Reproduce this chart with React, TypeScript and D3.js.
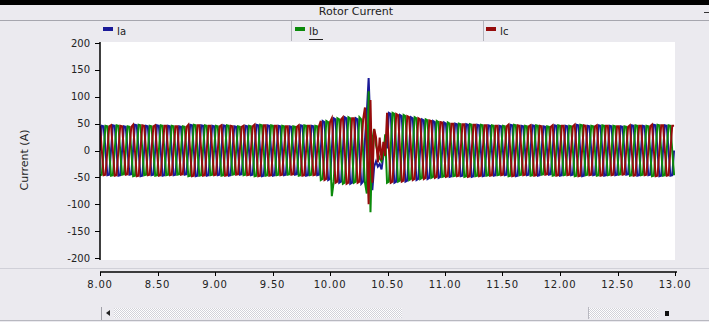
import * as d3 from 'd3';

// Chart text and ticks
const chartTitle = 'Rotor Current';
const yAxisLabel = 'Current (A)';
const seriesNames = ['Ia', 'Ib', 'Ic'];
const seriesColors = ['#1a1a98', '#0b8a0b', '#960c0c'];
const xTickValues = [8, 8.5, 9, 9.5, 10, 10.5, 11, 11.5, 12, 12.5, 13];
const yTickValues = [200, 150, 100, 50, 0, -50, -100, -150, -200];

// samples are evenly spaced in time
const startTime = 8;
const sampleStep = 0.016;

const iaValues = [
  0, 46, 45, 0, -46, -45, 1, 47, 46, -1, -47, -46, 0, 45, 44, 0, -45, -44, 2, 48, 47, -1, -48, -47,
  0, 46, 45, 0, -46, -45, 1, 47, 46, 0, -47, -46, 0, 46, 45, -1, -46, -45, 0, 45, 44, 0, -45, -44,
  1, 48, 47, 0, -48, -47, 0, 47, 46, -1, -47, -46, 0, 46, 45, 0, -46, -45, 1, 47, 46, 0, -47, -46,
  0, 45, 44, 0, -45, -44, 0, 46, 45, -1, -46, -45, 1, 48, 47, 0, -48, -47, 0, 47, 46, 0, -47, -46,
  0, 46, 45, -1, -46, -45, 0, 45, 44, 0, -45, -44, 1, 47, 46, 0, -47, -46, 0, 46, 45, 0, -46, -45,
  2, 55, 53, 0, -55, -53, 2, 60, 58, -2, -60, -58, 0, 62, 60, 0, -62, -60, 3, 60, 58, -4, -62, -58,
  20, 70, 135, 40, -74, -30, -20, -30, -25, -35, -10, 20,
  4, 70, 68, -3, -60, -58, 4, 66, 64, -3, -58, -56, 3, 62, 60, -2, -55, -53, 2, 58, 56, -1, -53, -51,
  2, 55, 53, -1, -51, -49, 1, 52, 50, 0, -49, -48, 1, 50, 49, 0, -48, -47, 0, 49, 48, -1, -49, -48,
  1, 48, 47, 0, -48, -47, 0, 47, 46, 0, -47, -46, 0, 46, 45, -1, -46, -45, 1, 48, 47, 0, -48, -47,
  0, 46, 45, 0, -46, -45, 0, 47, 46, 0, -47, -46, 1, 45, 44, -1, -45, -44, 0, 47, 46, 0, -47, -46,
  0, 46, 45, 0, -46, -45, 1, 48, 47, 0, -48, -47, 0, 46, 45, -1, -46, -45, 0, 47, 46, 0, -47, -46,
  1, 46, 45, 0, -46, -45, 0, 45, 44, 0, -45, -44, 0, 47, 46, -1, -47, -46, 1, 46, 45, 0, -46, -45,
  0, 48, 47, 0, -48, -47, 0, 47, 46, 0, -47, -46, 0
];

const ibValues = [
  -46, -45, 0, 46, 45, 0, -47, -46, 1, 47, 46, -1, -45, -44, 0, 45, 44, 0, -48, -47, -1, 48, 47, 1,
  -46, -45, 0, 46, 45, 0, -47, -46, 0, 47, 46, 1, -46, -45, 1, 46, 45, 0, -45, -44, 0, 45, 44, 0,
  -48, -47, 0, 48, 47, -1, -47, -46, 1, 47, 46, 0, -46, -45, 0, 46, 45, 0, -47, -46, 0, 47, 46, 1,
  -45, -44, 0, 45, 44, 0, -46, -45, 1, 46, 45, 0, -48, -47, 0, 48, 47, -1, -47, -46, 0, 47, 46, 0,
  -46, -45, 1, 46, 45, 0, -45, -44, 0, 45, 44, 0, -47, -46, 0, 47, 46, 1, -46, -45, 0, 46, 45, 0,
  -55, -53, -2, 55, 53, 0, -85, -58, 2, 60, 58, -2, -62, -60, 0, 62, 60, 0, -60, -58, 4, 62, 58, -3,
  -60, -80, 110, -115, 20, 40, 10, -5, -15, -20, -10, 30,
  -60, -58, 4, 70, 68, 3, -58, -56, 4, 66, 64, 3, -55, -53, 3, 62, 60, 2, -53, -51, 2, 58, 56, 2,
  -51, -49, 2, 55, 53, 1, -49, -48, 1, 52, 50, 1, -48, -47, 1, 50, 49, 0, -49, -48, 1, 49, 48, 0,
  -48, -47, -1, 48, 47, 0, -47, -46, 0, 47, 46, 0, -46, -45, 1, 46, 45, 0, -48, -47, -1, 48, 47, 0,
  -46, -45, 0, 46, 45, 0, -47, -46, 0, 47, 46, 0, -45, -44, 0, 45, 44, 1, -47, -46, 0, 47, 46, 0,
  -46, -45, 0, 46, 45, 0, -48, -47, -1, 48, 47, 0, -46, -45, 1, 46, 45, 0, -47, -46, 0, 47, 46, 0,
  -46, -45, -1, 46, 45, 0, -45, -44, 0, 45, 44, 0, -47, -46, 1, 47, 46, 0, -46, -45, -1, 46, 45, 0,
  -48, -47, 0, 48, 47, 0, -47, -46, 0, 47, 46, 0, -46
];

const icValues = [
  46, 0, -46, -45, 0, 45, 47, -1, -47, -46, 1, 46, 45, 0, -45, -44, 0, 44, 48, -1, -48, -47, 1, 47,
  46, 0, -46, -45, 0, 45, 47, -1, -47, -46, 0, 46, 46, 0, -46, -45, 1, 45, 45, 0, -45, -44, 0, 44,
  48, -1, -48, -47, 0, 47, 47, 0, -47, -46, 1, 46, 46, 0, -46, -45, 0, 45, 47, -1, -47, -46, 0, 46,
  45, 0, -45, -44, 0, 44, 46, 1, -46, -45, 0, 45, 48, -1, -48, -47, 0, 47, 47, 0, -47, -46, 0, 46,
  46, 1, -46, -45, 0, 45, 45, 0, -45, -44, 0, 44, 47, -1, -47, -46, 0, 46, 46, 0, -46, -45, 0, 45,
  55, -2, -55, -53, 2, 53, 60, -1, -60, -58, 3, 58, 62, 0, -62, -60, 0, 60, 60, 0, -60, -58, 2, 58,
  80, 10, -100, 94, -60, 40, 25, -22, 24, -18, 16, -10,
  70, 4, -60, -58, 3, 68, 66, 4, -58, -56, 3, 64, 62, 3, -55, -53, 2, 60, 58, 2, -53, -51, 2, 56,
  55, 2, -51, -49, 1, 53, 52, 1, -49, -48, 1, 50, 50, 1, -48, -47, 0, 49, 49, 0, -49, -48, 0, 48,
  48, -1, -48, -47, 0, 47, 47, 0, -47, -46, 0, 46, 46, 1, -46, -45, 0, 45, 48, -1, -48, -47, 0, 47,
  46, 0, -46, -45, 0, 45, 47, 0, -47, -46, 1, 46, 45, -1, -45, -44, 0, 44, 47, 0, -47, -46, 0, 46,
  46, 0, -46, -45, 0, 45, 48, 1, -48, -47, 0, 47, 46, -1, -46, -45, 0, 45, 47, 0, -47, -46, 0, 46,
  46, 1, -46, -45, 0, 45, 45, 0, -45, -44, 0, 44, 47, -1, -47, -46, 0, 46, 46, 0, -46, -45, 1, 45,
  48, 0, -48, -47, 0, 47, 47, 0, -47, -46, 0, 46, 46
];

const seriesValues = [iaValues, ibValues, icValues];

const width = 709;
const height = 322;
const plotLeft = 100;
const plotRight = 675;
const plotTop = 42;
const plotBottom = 260;
const axisY = 272;
const bg = '#ebeaef';
const font = '"DejaVu Sans", Verdana, sans-serif';

export default function App() {
  const x = d3.scaleLinear().domain([8, 13]).range([plotLeft, plotRight]);
  const y = d3.scaleLinear().domain([-200, 200]).range([258, 43]);

  const line = d3
    .line<number>()
    .x((_, i) => x(startTime + i * sampleStep))
    .y((d) => y(d));

  const legendX = [103, 295, 486];

  return (
    <svg
      width={width}
      height={height}
      viewBox={`0 0 ${width} ${height}`}
      style={{ position: 'absolute', left: 0, top: 0, display: 'block' }}
      fontFamily={font}
    >
      <defs>
        <pattern id="chk" width="2" height="2" patternUnits="userSpaceOnUse">
          <rect width="2" height="2" fill="#ffffff" />
          <rect width="1" height="1" fill="#d2d2da" />
          <rect x="1" y="1" width="1" height="1" fill="#d2d2da" />
        </pattern>
        <clipPath id="plotClip">
          <rect x={plotLeft} y={plotTop} width={plotRight - plotLeft} height={plotBottom - plotTop} />
        </clipPath>
      </defs>

      <rect width={width} height={height} fill={bg} />
      <rect width={width} height={5} fill="#000" />

      {/* title bar */}
      <text x={356} y={15} fontSize={11} textAnchor="middle" fill="#222">
        {chartTitle}
      </text>
      <line x1={704} x2={709} y1={12.5} y2={12.5} stroke="#333" />
      <line x1={0} x2={width} y1={20.5} y2={20.5} stroke="#a6a6ae" />

      {/* legend */}
      {seriesNames.map((name, i) => (
        <g key={name}>
          <rect x={legendX[i]} y={27} width={10} height={4} fill={seriesColors[i]} />
          <text x={legendX[i] + 14} y={35} fontSize={10} fill="#222">
            {name}
          </text>
        </g>
      ))}
      <line x1={309} x2={323} y1={39.5} y2={39.5} stroke="#222" />
      <line x1={291.5} x2={291.5} y1={21} y2={41} stroke="#b4b4bc" />
      <line x1={483.5} x2={483.5} y1={21} y2={41} stroke="#b4b4bc" />

      {/* plot area */}
      <rect x={plotLeft} y={plotTop} width={plotRight - plotLeft} height={plotBottom - plotTop} fill="#fff" />
      <g clipPath="url(#plotClip)">
        {seriesValues.map((vals, i) => (
          <path key={i} d={line(vals) ?? ''} fill="none" stroke={seriesColors[i]} strokeWidth={2} />
        ))}
      </g>

      {/* y axis */}
      <line x1={plotLeft} x2={plotLeft} y1={plotTop} y2={plotBottom} stroke="#000" strokeWidth={1.5} />
      {yTickValues.map((v) => (
        <g key={v}>
          <line x1={95} x2={plotLeft} y1={Math.round(y(v)) + 0.5} y2={Math.round(y(v)) + 0.5} stroke="#000" />
          <text x={90} y={y(v) + 3.5} fontSize={10} textAnchor="end" fill="#222">
            {v}
          </text>
        </g>
      ))}
      <text
        transform={`translate(24,160) rotate(-90)`}
        fontSize={11}
        textAnchor="middle"
        dominantBaseline="central"
        fill="#222"
      >
        {yAxisLabel}
      </text>

      {/* x axis panel */}
      <line x1={0} x2={width} y1={268.5} y2={268.5} stroke="#d0d0d8" />
      <line x1={plotLeft} x2={plotRight + 2} y1={axisY} y2={axisY} stroke="#000" strokeWidth={1.5} />
      {xTickValues.map((v) => (
        <g key={v}>
          <line x1={Math.round(x(v)) + 0.5} x2={Math.round(x(v)) + 0.5} y1={axisY} y2={axisY + 4} stroke="#000" />
          <text x={x(v)} y={288} fontSize={10} textAnchor="middle" letterSpacing={0.8} fill="#222">
            {d3.format('.2f')(v)}
          </text>
        </g>
      ))}

      {/* scrollbar */}
      <line x1={101.5} x2={101.5} y1={307} y2={320} stroke="#a0a0a8" />
      <path d="M106,313 L110,310 L110,316 Z" fill="#222" />
      <rect x={114} y={308} width={288} height={10} fill="url(#chk)" />
      <rect x={402} y={308} width={186} height={10} fill={bg} />
      <rect x={588} y={308} width={70} height={10} fill="url(#chk)" />
      <line x1={588.5} x2={588.5} y1={307} y2={319} stroke="#b8b8c0" />
      <rect x={665} y={311} width={4} height={5} fill="#111" />
      <line x1={0} x2={width} y1={320.5} y2={320.5} stroke="#b8b8c0" />
    </svg>
  );
}
